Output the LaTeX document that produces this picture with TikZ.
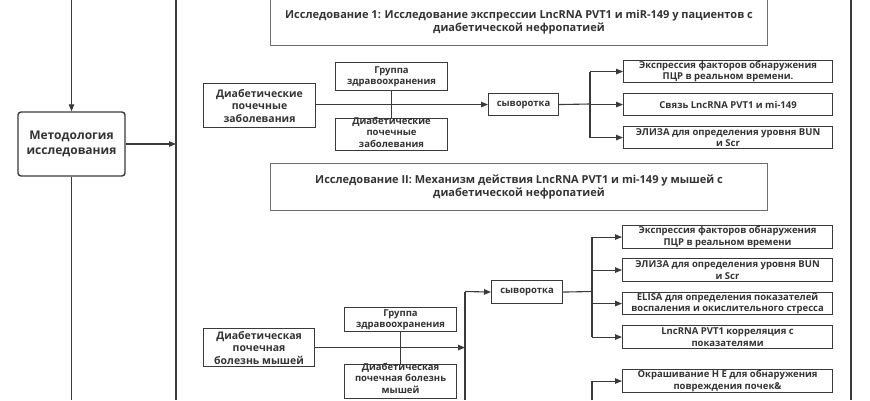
\documentclass[tikz,border=0pt]{standalone}
\usepackage{fontspec}
\setmainfont{Open Sans}
\usetikzlibrary{arrows.meta}
\definecolor{ink}{HTML}{333333}
\definecolor{edge}{HTML}{3A3A3A}
\definecolor{tedge}{HTML}{6E6E6E}
\begin{document}
\begin{tikzpicture}[x=1pt,y=-1pt,
  every node/.style={text=ink},
  ln/.style={draw=edge, line width=1.1pt},
  arr/.style={ln, -{Triangle[length=7pt,width=5.5pt]}},
  box/.style={draw=edge, line width=1.1pt, inner sep=0pt, align=center, anchor=north west,
    font=\bfseries\fontsize{9.5}{11.5}\selectfont},
  lbox/.style={box, font=\bfseries\fontsize{10.5}{12.5}\selectfont},
  tbox/.style={draw=tedge, line width=1pt, inner sep=0pt, align=center, anchor=north west,
    font=\bfseries\fontsize{11}{13}\selectfont},
  mbox/.style={draw=edge, line width=1.4pt, rounded corners=3pt, inner sep=0pt, align=center,
    font=\bfseries\fontsize{12}{15}\selectfont},
  otext/.style={inner sep=0pt, align=center, anchor=north,
    font=\bfseries\fontsize{9.5}{11.8}\selectfont}
]
\useasboundingbox (0,0) rectangle (870,400);
\fill[white] (0,0) rectangle (870,400);

% frame lines
\coordinate (fl1) at (176,0);
\coordinate (fl2) at (176,400);
\coordinate (fr1) at (851,0);
\coordinate (fr2) at (851,400);
\draw[ln] (fl1) -- (fl2);
\draw[ln] (fr1) -- (fr2);

% methodology
\node[mbox, minimum width=107, minimum height=64] (m) at (71.5,144) {Методология\\исследования};
\coordinate (mt) at (71.5,0);
\coordinate (mb) at (71.5,400);
\draw[arr] (mt) -- (m.north);
\draw[ln] (m.south) -- (mb);
\draw[arr] (m.east) -- (m.east -| fl1);

% titles
\node[tbox, minimum width=497, minimum height=47] (t1) at (270,-2)
  {Исследование 1: Исследование экспрессии LncRNA PVT1 и miR-149 у пациентов с\\диабетической нефропатией};
\node[tbox, minimum width=497, minimum height=47] (t2) at (270,163)
  {Исследование II: Механизм действия LncRNA PVT1 и mi-149 у мышей с\\диабетической нефропатией};

% group 1
\node[lbox, minimum width=112, minimum height=44] (l1) at (203,83) {Диабетические\\почечные\\заболевания};
\node[box, minimum width=112, minimum height=28] (g1) at (335,62) {Группа\\здравоохранения};
\node[box, minimum width=112, minimum height=32] (d1) at (335,118) {};
\node[otext] (d1t) at ([yshift=1.5pt]d1.north) {Диабетические\\почечные\\заболевания};
\node[box, minimum width=70, minimum height=22] (s1) at (488,93) {сыворотка};
\node[box, minimum width=209, minimum height=22] (r11) at (623,60) {Экспрессия факторов обнаружения\\ПЦР в реальном времени.};
\node[box, minimum width=209, minimum height=22] (r12) at (623,93) {Связь LncRNA PVT1 и mi-149};
\node[box, minimum width=209, minimum height=22] (r13) at (623,126) {ЭЛИЗА для определения уровня BUN\\и Scr};

\draw[ln] (g1.south) -- (d1.north);
\draw[arr] (l1.east |- s1.west) -- (s1.west);
\coordinate (b1) at (590,104);
\draw[ln] (s1.east) -- (b1);
\draw[ln] (b1 |- r11.west) -- (b1 |- r13.west);
\draw[arr] (b1 |- r11.west) -- (r11.west);
\draw[arr] (b1 |- r12.west) -- (r12.west);
\draw[arr] (b1 |- r13.west) -- (r13.west);

% group 2
\node[lbox, minimum width=111, minimum height=38] (l2) at (203,328) {Диабетическая\\почечная\\болезнь мышей};
\node[box, minimum width=112, minimum height=24] (g2) at (344,307) {Группа\\здравоохранения};
\node[box, minimum width=112, minimum height=34] (d2) at (344,364) {};
\node[otext] (d2t) at ([yshift=1.5pt]d2.north) {Диабетическая\\почечная болезнь\\мышей};
\node[box, minimum width=71, minimum height=23] (s2) at (491,280) {сыворотка};
\node[box, minimum width=210, minimum height=23] (r21) at (622,225) {Экспрессия факторов обнаружения\\ПЦР в реальном времени};
\node[box, minimum width=210, minimum height=23] (r22) at (622,258) {ЭЛИЗА для определения уровня BUN\\и Scr};
\node[box, minimum width=210, minimum height=22] (r23) at (622,292) {ELISA для определения показателей\\воспаления и окислительного стресса};
\node[box, minimum width=210, minimum height=23] (r24) at (622,325) {LncRNA PVT1 корреляция с\\показателями};
\node[box, minimum width=210, minimum height=23] (r25) at (622,369) {Окрашивание H E для обнаружения\\повреждения почек\&};

\draw[ln] (g2.south) -- (d2.north);
\coordinate (v2t) at (465,291.5);
\coordinate (v2b) at (465,400);
\draw[ln] (v2t) -- (v2b);
\draw[arr] (v2t) -- (s2.west);
\draw[arr] (l2.east) -- (l2.east -| v2t);
\coordinate (b2) at (592,291.5);
\coordinate (b2b) at (592,400);
\draw[ln] (s2.east) -- (b2);
\draw[ln] (b2 |- r21.west) -- (b2 |- r24.west);
\draw[arr] (b2 |- r21.west) -- (r21.west);
\draw[arr] (b2 |- r22.west) -- (r22.west);
\draw[arr] (b2 |- r23.west) -- (r23.west);
\draw[arr] (b2 |- r24.west) -- (r24.west);
\draw[ln] (b2b) -- (b2 |- r25.west);
\draw[arr] (b2 |- r25.west) -- (r25.west);
\end{tikzpicture}
\end{document}
